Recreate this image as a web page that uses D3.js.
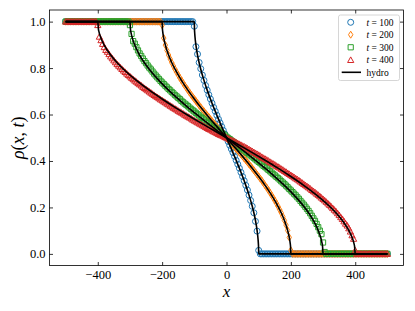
<!DOCTYPE html>
<html><head><meta charset="utf-8">
<script src="https://cdn.jsdelivr.net/npm/d3@7"></script>
<style>body{margin:0;background:#fff}svg{display:block}text{font-family:"Liberation Serif","DejaVu Serif",serif}</style>
</head><body>
<svg id="c" width="415" height="311"></svg>
<script>
// ---------- data ----------
const xGrid = d3.range(-500, 505, 5);   // lattice positions sampled every 5 sites
const times = [100, 200, 300, 400];
const tickX = [-400, -200, 0, 200, 400];
const tickY = [0, 0.2, 0.4, 0.6, 0.8, 1.0];

const rho100 = [
1,1,1,1,1,1,1,1,1,1,1,1,1,1,1,1,1,1,1,1,1,1,1,1,1,1,1,1,1,1,1,1,1,1,1,1,1,1,1,1,
1,1,1,1,1,1,1,1,1,1,1,1,1,1,1,1,1,1,1,1,1,1,1,1,1,1,1,1,1,1,1,1,1,1,1,1,1,1,1,1,
0.980,0.892,0.860,0.824,0.797,0.770,0.747,0.725,0.705,0.685,0.667,0.649,0.631,0.614,0.597,0.580,0.564,0.548,0.532,0.516,
0.500,
0.484,0.468,0.452,0.436,0.420,0.403,0.386,0.369,0.351,0.333,0.315,0.295,0.275,0.253,0.230,0.205,0.177,0.140,0.098,0.015,
0,0,0,0,0,0,0,0,0,0,0,0,0,0,0,0,0,0,0,0,0,0,0,0,0,0,0,0,0,0,0,0,0,0,0,0,0,0,0,0,
0,0,0,0,0,0,0,0,0,0,0,0,0,0,0,0,0,0,0,0,0,0,0,0,0,0,0,0,0,0,0,0,0,0,0,0,0,0,0,0];

const rho200 = [
1,1,1,1,1,1,1,1,1,1,1,1,1,1,1,1,1,1,1,1,1,1,1,1,1,1,1,1,1,1,
1,1,1,1,1,1,1,1,1,1,1,1,1,1,1,1,1,1,1,1,1,1,1,1,1,1,1,1,1,1,
0.985,0.929,0.899,0.876,0.856,0.839,0.823,0.809,0.795,0.782,0.770,0.758,0.747,0.736,0.725,0.715,0.705,0.695,0.685,0.676,
0.667,0.658,0.649,0.640,0.631,0.622,0.614,0.605,0.597,0.589,0.580,0.572,0.564,0.556,0.548,0.540,0.532,0.524,0.516,0.508,
0.500,
0.492,0.484,0.476,0.468,0.460,0.452,0.444,0.436,0.428,0.420,0.411,0.403,0.395,0.386,0.378,0.369,0.360,0.351,0.342,0.333,
0.324,0.315,0.305,0.295,0.285,0.275,0.264,0.253,0.242,0.230,0.218,0.205,0.191,0.177,0.161,0.144,0.124,0.101,0.071,0.015,
0,0,0,0,0,0,0,0,0,0,0,0,0,0,0,0,0,0,0,0,0,0,0,0,0,0,0,0,0,0,
0,0,0,0,0,0,0,0,0,0,0,0,0,0,0,0,0,0,0,0,0,0,0,0,0,0,0,0,0,0];

const rho300 = [
1,1,1,1,1,1,1,1,1,1,1,1,1,1,1,1,1,1,1,1,1,1,1,1,1,1,1,1,1,1,1,1,1,1,1,1,1,1,1,1,
0.985,0.947,0.916,0.905,0.890,0.876,0.863,0.852,0.841,0.830,0.821,0.811,0.802,0.794,0.785,0.776,0.768,0.760,0.753,0.745,
0.738,0.731,0.724,0.717,0.710,0.704,0.697,0.691,0.684,0.678,0.672,0.666,0.659,0.653,0.647,0.642,0.636,0.630,0.624,0.618,
0.613,0.607,0.601,0.596,0.590,0.585,0.579,0.574,0.568,0.563,0.558,0.552,0.547,0.542,0.536,0.531,0.525,0.520,0.515,0.510,
0.504,
0.499,0.494,0.488,0.483,0.478,0.472,0.467,0.462,0.456,0.451,0.446,0.440,0.435,0.429,0.424,0.419,0.413,0.407,0.402,0.396,
0.391,0.385,0.379,0.374,0.368,0.362,0.356,0.350,0.344,0.338,0.332,0.326,0.320,0.313,0.307,0.301,0.294,0.287,0.280,0.273,
0.266,0.259,0.252,0.244,0.237,0.228,0.220,0.212,0.203,0.194,0.185,0.175,0.164,0.153,0.142,0.129,0.115,0.100,0.085,0.049,
0.008,
0,0,0,0,0,0,0,0,0,0,0,0,0,0,0,0,0,0,0,0,0,0,0,0,0,0,0,0,0,0,0,0,0,0,0,0,0,0,0];

const rho400 = [
1,1,1,1,1,1,1,1,1,1,1,1,1,1,1,1,1,1,1,1,
0.985,0.935,0.920,0.904,0.890,0.878,0.870,0.860,0.850,0.842,0.833,0.825,0.817,0.810,0.803,0.796,0.789,0.783,0.776,0.770,
0.764,0.758,0.752,0.746,0.741,0.735,0.730,0.725,0.719,0.714,0.709,0.704,0.699,0.694,0.689,0.684,0.679,0.675,0.670,0.665,
0.661,0.656,0.652,0.647,0.643,0.638,0.634,0.629,0.625,0.621,0.616,0.612,0.608,0.604,0.599,0.595,0.591,0.587,0.583,0.578,
0.574,0.570,0.566,0.562,0.558,0.554,0.550,0.546,0.542,0.538,0.535,0.531,0.527,0.524,0.520,0.516,0.513,0.510,0.507,0.503,
0.500,
0.497,0.493,0.490,0.487,0.484,0.480,0.476,0.473,0.469,0.465,0.462,0.458,0.454,0.450,0.446,0.442,0.438,0.434,0.430,0.426,
0.422,0.417,0.413,0.409,0.405,0.401,0.396,0.392,0.388,0.384,0.379,0.375,0.371,0.366,0.362,0.357,0.353,0.348,0.344,0.339,
0.335,0.330,0.325,0.321,0.316,0.311,0.306,0.301,0.296,0.291,0.286,0.281,0.275,0.270,0.265,0.259,0.254,0.248,0.242,0.236,
0.230,0.224,0.217,0.211,0.204,0.197,0.190,0.183,0.175,0.167,0.158,0.150,0.140,0.130,0.122,0.110,0.096,0.080,0.065,0.015,
0,0,0,0,0,0,0,0,0,0,0,0,0,0,0,0,0,0,0,0];

// hydrodynamic profile (same shape in x/t for every t)
const hydroRho = [1,1,0.968,0.955,0.936,0.899,0.856,0.823,0.795,0.747,0.705,0.667,0.631,0.597,0.564,0.532,0.5,
                  0.468,0.436,0.403,0.369,0.333,0.295,0.253,0.205,0.177,0.144,0.101,0.064,0.045,0.032,0,0];
const hydroX100 = [-500,-100,-99.5,-99,-98,-95,-90,-85,-80,-70,-60,-50,-40,-30,-20,-10,0,10,20,30,40,50,60,70,80,85,90,95,98,99,99.5,100,500];
const hydroX200 = [-500,-200,-199,-198,-196,-190,-180,-170,-160,-140,-120,-100,-80,-60,-40,-20,0,20,40,60,80,100,120,140,160,170,180,190,196,198,199,200,500];
const hydroX300 = [-500,-300,-298.5,-297,-294,-285,-270,-255,-240,-210,-180,-150,-120,-90,-60,-30,0,30,60,90,120,150,180,210,240,255,270,285,294,297,298.5,300,500];
const hydroX400 = [-500,-400,-398,-396,-392,-380,-360,-340,-320,-280,-240,-200,-160,-120,-80,-40,0,40,80,120,160,200,240,280,320,340,360,380,392,396,398,400,500];

const colors = ["#1f77b4", "#ff7f0e", "#2ca02c", "#d62728"];
const markers = ["circle", "thin_diamond", "square", "triangle"];

// ---------- chart ----------
const svg = d3.select("#c");
const m = {l: 49.5, r: 403.5, t: 10, b: 265.5};
const x = d3.scaleLinear().domain([-550, 550]).range([m.l, m.r]);
const y = d3.scaleLinear().domain([-0.05, 1.05]).range([m.b, m.t]);

function markerPath(kind) {
  if (kind === "circle") return "M3,0A3,3 0 1,1 -3,0A3,3 0 1,1 3,0Z";
  if (kind === "thin_diamond") return "M0,-3.5L2.2,0L0,3.5L-2.2,0Z";
  if (kind === "square") return "M-2.6,-2.6H2.6V2.6H-2.6Z";
  return "M0,-3.1L3.1,2.5H-3.1Z";
}

svg.append("defs").append("clipPath").attr("id", "clip")
  .append("rect").attr("x", m.l).attr("y", m.t).attr("width", m.r - m.l).attr("height", m.b - m.t);

const plot = svg.append("g").attr("clip-path", "url(#clip)");
const series = [rho100, rho200, rho300, rho400];
series.forEach((vals, i) => {
  plot.append("g").selectAll("path").data(vals).join("path")
    .attr("d", markerPath(markers[i]))
    .attr("transform", (d, j) => `translate(${x(xGrid[j])},${y(d)})`)
    .attr("fill", "none").attr("stroke", colors[i]).attr("stroke-width", 1);
});

const line = d3.line().x(d => x(d[0])).y(d => y(d[1])).curve(d3.curveMonotoneX);
[hydroX100, hydroX200, hydroX300, hydroX400].forEach(hx => {
  plot.append("path").datum(hx.map((v, k) => [v, hydroRho[k]]))
    .attr("d", line).attr("fill", "none").attr("stroke", "#000").attr("stroke-width", 1.6);
});

// axes (ticks inward, mirrored on top/right)
const fmtX = d => (d < 0 ? "\u2212" + Math.abs(d) : "" + d);
const axB = svg.append("g").attr("transform", `translate(0,${m.b})`)
  .call(d3.axisBottom(x).tickValues(tickX).tickSizeInner(-3.5).tickSizeOuter(0).tickPadding(5).tickFormat(fmtX));
const axT = svg.append("g").attr("transform", `translate(0,${m.t})`)
  .call(d3.axisTop(x).tickValues(tickX).tickSizeInner(-3.5).tickSizeOuter(0).tickFormat(""));
const axL = svg.append("g").attr("transform", `translate(${m.l},0)`)
  .call(d3.axisLeft(y).tickValues(tickY).tickSizeInner(-3.5).tickSizeOuter(0).tickPadding(4).tickFormat(d3.format(".1f")));
const axR = svg.append("g").attr("transform", `translate(${m.r},0)`)
  .call(d3.axisRight(y).tickValues(tickY).tickSizeInner(-3.5).tickSizeOuter(0).tickFormat(""));
[axB, axT, axL, axR].forEach(a => {
  a.select(".domain").remove();
  a.selectAll("line").attr("stroke", "#000").attr("stroke-width", 0.8);
  a.selectAll("text").attr("font-size", 12.5).attr("fill", "#000")
    .style("font-family", '"Liberation Serif","DejaVu Serif",serif');
});
svg.append("rect").attr("x", m.l).attr("y", m.t).attr("width", m.r - m.l).attr("height", m.b - m.t)
  .attr("fill", "none").attr("stroke", "#000").attr("stroke-width", 0.8);

// axis labels
svg.append("text").attr("x", (m.l + m.r) / 2).attr("y", 297).attr("text-anchor", "middle")
  .attr("font-size", 17).attr("font-style", "italic").text("x");
svg.append("text").attr("transform", `translate(24,${(m.t + m.b) / 2}) rotate(-90)`)
  .attr("text-anchor", "middle").attr("font-size", 18)
  .call(t => {
    t.append("tspan").attr("font-style", "italic").text("\u03C1");
    t.append("tspan").text("(");
    t.append("tspan").attr("font-style", "italic").text("x");
    t.append("tspan").text(", ");
    t.append("tspan").attr("font-style", "italic").text("t");
    t.append("tspan").text(")");
  });

// legend
const lg = svg.append("g");
lg.append("rect").attr("x", 338.5).attr("y", 15).attr("width", 61).attr("height", 65.5).attr("rx", 2)
  .attr("fill", "#fff").attr("fill-opacity", 0.8).attr("stroke", "#ccc").attr("stroke-width", 0.8);
const rowY = [22.3, 34.7, 47.3, 60, 72.3];
times.forEach((tv, i) => {
  lg.append("path").attr("d", markerPath(markers[i])).attr("transform", `translate(350.7,${rowY[i]})`)
    .attr("fill", "none").attr("stroke", colors[i]).attr("stroke-width", 1);
  const tx = lg.append("text").attr("x", 366.5).attr("y", rowY[i] + 3.2).attr("font-size", 9.5);
  tx.append("tspan").attr("font-style", "italic").text("t");
  tx.append("tspan").text(" = " + tv);
});
lg.append("line").attr("x1", 341.7).attr("x2", 361).attr("y1", rowY[4]).attr("y2", rowY[4])
  .attr("stroke", "#000").attr("stroke-width", 1.6);
lg.append("text").attr("x", 366.5).attr("y", rowY[4] + 3.2).attr("font-size", 9.5).text("hydro");
</script>
</body></html>
